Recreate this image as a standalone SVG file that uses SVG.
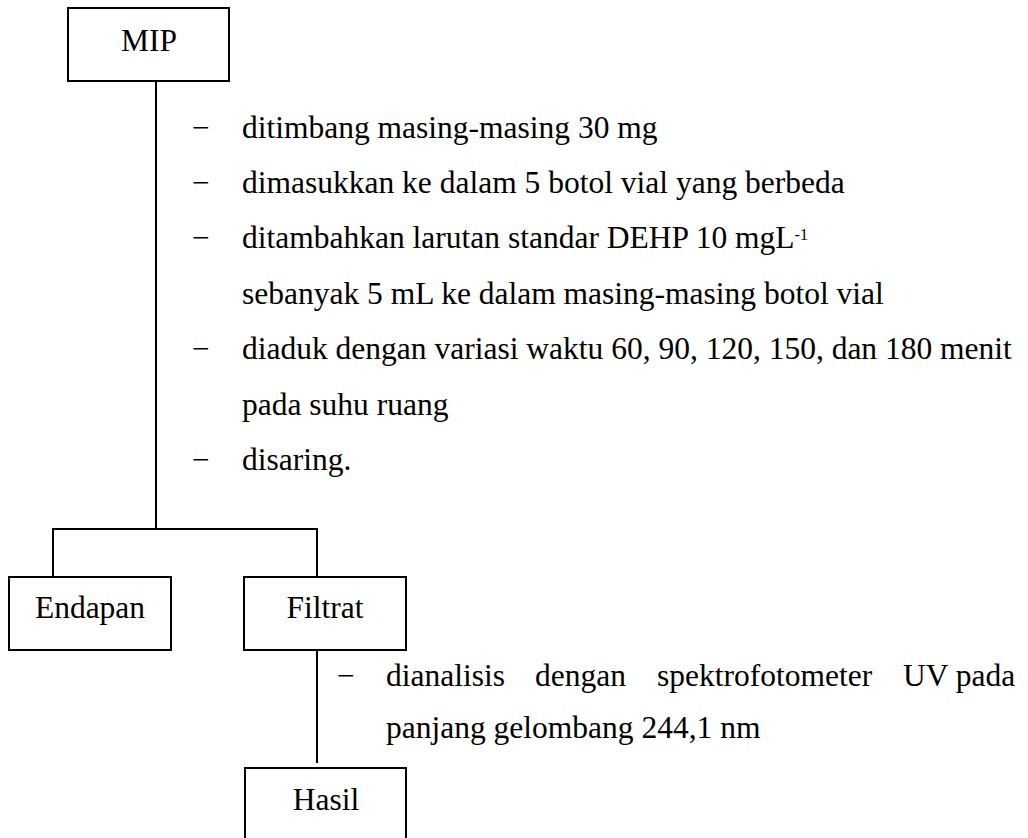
<svg xmlns="http://www.w3.org/2000/svg" width="1028" height="838" viewBox="0 0 1028 838">
<style>
  .box { fill: #ffffff; stroke: #000000; stroke-width: 2; }
  .conn { fill: none; stroke: #000000; stroke-width: 2; }
  text { font-family: "Liberation Serif", "Times New Roman", serif; font-size: 31.5px; fill: #000000; }
  .c { text-anchor: middle; }
  .sup { font-size: 16px; }
</style>
<rect width="1028" height="838" fill="#ffffff"/>
<g id="connectors">
  <line class="conn" x1="156" y1="78" x2="156" y2="530"/>
  <polyline class="conn" points="53,578 53,529 317,529 317,578"/>
  <line class="conn" x1="317" y1="642" x2="317" y2="763"/>
</g>
<g id="node-mip">
  <rect class="box" x="68" y="8" width="161" height="73"/>
  <text class="c" x="149" y="51">MIP</text>
</g>
<g id="steps-1">
  <text x="192" y="138">−</text>
  <text x="242" y="138">ditimbang masing-masing 30 mg</text>
  <text x="192" y="192.5">−</text>
  <text x="242" y="192.5">dimasukkan ke dalam 5 botol vial yang berbeda</text>
  <text x="192" y="248">−</text>
  <text x="242" y="248">ditambahkan larutan standar DEHP 10 mgL<tspan class="sup" dy="-8.5">-1</tspan></text>
  <text x="242" y="303.5">sebanyak 5 mL ke dalam masing-masing botol vial</text>
  <text x="192" y="359">−</text>
  <text x="242" y="359">diaduk dengan variasi waktu 60, 90, 120, 150, dan 180 menit</text>
  <text x="242" y="414.5">pada suhu ruang</text>
  <text x="192" y="470">−</text>
  <text x="242" y="470">disaring.</text>
</g>
<g id="node-endapan">
  <rect class="box" x="9" y="577" width="162" height="73"/>
  <text class="c" x="90" y="618">Endapan</text>
</g>
<g id="node-filtrat">
  <rect class="box" x="244" y="577" width="162" height="73"/>
  <text class="c" x="325" y="618">Filtrat</text>
</g>
<g id="steps-2">
  <text x="337" y="686">−</text>
  <text y="686"><tspan x="386">dianalisis</tspan><tspan x="535">dengan</tspan><tspan x="657">spektrofotometer</tspan><tspan x="903">UV pada</tspan></text>
  <text x="386" y="738">panjang gelombang 244,1 nm</text>
</g>
<g id="node-hasil">
  <rect class="box" x="245" y="768" width="161" height="100"/>
  <text class="c" x="326" y="810">Hasil</text>
</g>
</svg>
